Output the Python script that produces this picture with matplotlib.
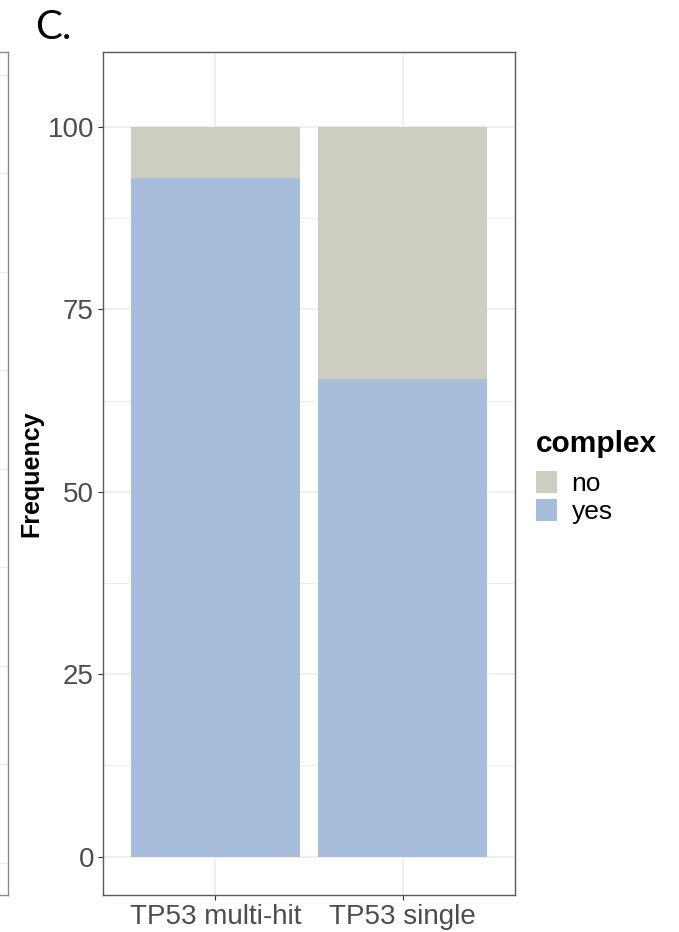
import matplotlib
matplotlib.use("Agg")
import matplotlib.pyplot as plt
from matplotlib.patches import Patch
import numpy as np

# Data
groups = ["TP53 multi-hit", "TP53 single"]
yes_pct = [93.0, 65.4]
no_pct = [100 - v for v in yes_pct]
legend_title = "complex"
legend_labels = ["no", "yes"]
y_ticks = [0, 25, 50, 75, 100]

col_no = "#CDCDC1"
col_yes = "#A8BDDC"
grid_col = "#EBEBEB"
border_col = "#5a5a5a"
tick_text = "#4D4D4D"
font = "Liberation Sans"

W, H = 679, 932
fig = plt.figure(figsize=(W / 100, H / 100), dpi=100)

def frac(x0, y0, x1, y1):
    return [x0 / W, 1 - y1 / H, (x1 - x0) / W, (y1 - y0) / H]

# Edge of the neighbouring panel on the left
axl = fig.add_axes(frac(-120, 52, 8, 895))
axl.set_xlim(0, 1)
axl.set_ylim(-0.325, 8.233)
for k in range(9):
    axl.axhline(k, color=grid_col, lw=1.0, zorder=0)
axl.set_xticks([]); axl.set_yticks([])
for s in axl.spines.values():
    s.set_color("#8a8a8a"); s.set_linewidth(1.0)

# Main panel
ax = fig.add_axes(frac(103, 52, 515, 895))
x = np.arange(1, len(groups) + 1)
ax.bar(x, yes_pct, width=0.9, color=col_yes, zorder=2)
ax.bar(x, no_pct, width=0.9, bottom=yes_pct, color=col_no, zorder=2)

ax.set_xlim(0.4, 2.6)
ax.set_ylim(-5.25, 110.25)
ax.set_yticks(y_ticks)
ax.set_yticks([12.5, 37.5, 62.5, 87.5], minor=True)
ax.set_xticks(x)
ax.set_xticklabels(groups)
ax.grid(True, which="major", color=grid_col, lw=1.1, zorder=0)
ax.grid(True, which="minor", axis="y", color=grid_col, lw=0.6, zorder=0)
ax.set_axisbelow(True)
ax.tick_params(axis="both", which="major", length=3.5, width=0.8, color="#333333",
               labelcolor=tick_text, labelsize=20, pad=3)
ax.tick_params(axis="both", which="minor", length=0)
for lab in ax.get_xticklabels() + ax.get_yticklabels():
    lab.set_fontfamily(font)
for s in ax.spines.values():
    s.set_color(border_col); s.set_linewidth(1.0)

ax.set_ylabel("Frequency", fontsize=18, fontweight="bold", family=font)
ax.yaxis.set_label_coords(-0.145, 0.5)

# Legend
fig.text(536 / W, 1 - 452 / H, legend_title, fontsize=21.5, fontweight="bold",
         family=font, ha="left", va="baseline")
handles = [Patch(facecolor=col_no, edgecolor="none"), Patch(facecolor=col_yes, edgecolor="none")]
leg = fig.legend(handles, legend_labels,
                 loc="upper left", bbox_to_anchor=(536 / W, 1 - 471 / H),
                 frameon=False, prop={"family": font, "size": 19},
                 handlelength=0.8, handleheight=0.88, handletextpad=0.55,
                 labelspacing=0.12, borderpad=0.0, borderaxespad=0.0)

# Panel letter
fig.text(35 / W, 1 - 39 / H, "C.", fontsize=29, family="Lato", ha="left", va="baseline")

fig.savefig("out.png", dpi=100)
